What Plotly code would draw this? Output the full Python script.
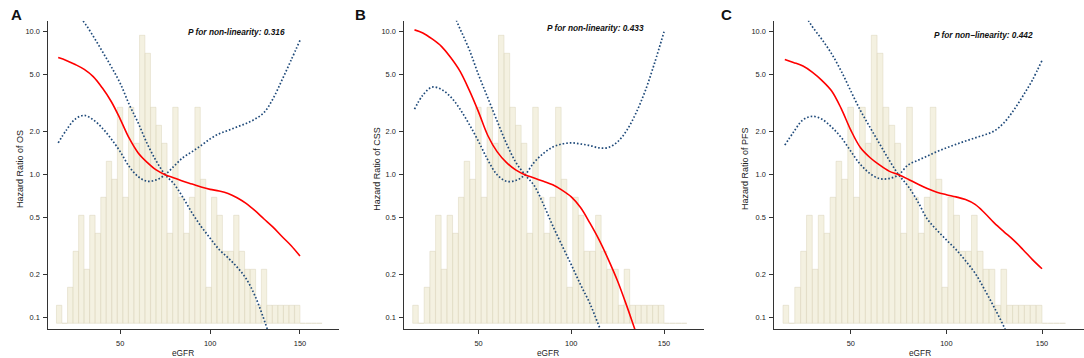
import numpy as np
import plotly.graph_objects as go

# ---------------- data ----------------
egfr_grid = [15.5, 20, 25, 30, 35, 40, 45, 50, 55, 60, 65, 70, 75, 80, 85, 90,
             95, 100, 105, 110, 115, 120, 125, 130, 135, 140, 145, 150]
egfr_ref = 75

hr_os = [6.6, 6.3, 5.9, 5.45, 4.85, 4.05, 3.25, 2.45, 1.8, 1.42, 1.22, 1.08, 1.0, 0.95,
         0.9, 0.86, 0.82, 0.79, 0.77, 0.74, 0.69, 0.63, 0.56, 0.49, 0.43, 0.37, 0.32, 0.27]
upper_os = [18, 16, 13.6, 11.6, 9.3, 7.3, 5.7, 4.36, 3.1, 2.3, 1.65, 1.25, 1.0, 1.15,
            1.32, 1.45, 1.6, 1.78, 1.93, 2.04, 2.16, 2.28, 2.45, 2.72, 3.4, 4.6, 6.3, 8.7]
lower_os = [1.67, 2.05, 2.45, 2.6, 2.42, 2.12, 1.78, 1.45, 1.14, 0.97, 0.9, 0.92, 1.0, 0.86,
            0.69, 0.54, 0.435, 0.36, 0.30, 0.262, 0.226, 0.188, 0.142, 0.097, 0.063, 0.04, 0.025, 0.016]

hr_css = [10.3, 9.8, 8.9, 7.9, 6.6, 5.3, 3.9, 2.75, 1.88, 1.45, 1.22, 1.08, 1.0, 0.95,
          0.9, 0.85, 0.78, 0.7, 0.59, 0.46, 0.35, 0.255, 0.18, 0.12, 0.078, 0.052, 0.035, 0.024]
upper_css = [24, 22, 20, 17.5, 14.5, 10.5, 7.5, 5.0, 3.45, 2.38, 1.66, 1.23, 1.0, 1.22,
             1.41, 1.56, 1.64, 1.67, 1.64, 1.6, 1.54, 1.55, 1.7, 2.05, 2.72, 3.9, 6.1, 10.0]
lower_css = [2.87, 3.6, 4.1, 3.95, 3.5, 2.88, 2.25, 1.71, 1.27, 1.0, 0.9, 0.91, 1.0, 0.84,
             0.62, 0.44, 0.32, 0.235, 0.17, 0.126, 0.087, 0.06, 0.04, 0.027, 0.018, 0.012, 0.008, 0.005]

hr_pfs = [6.4, 6.1, 5.75, 5.2, 4.55, 3.85, 2.9, 2.05, 1.55, 1.32, 1.17, 1.06, 1.0, 0.93,
          0.86, 0.8, 0.755, 0.725, 0.7, 0.67, 0.62, 0.54, 0.46, 0.4, 0.35, 0.3, 0.255, 0.22]
upper_pfs = [20, 17.5, 13.8, 10.8, 8.8, 7.0, 5.3, 3.85, 2.82, 2.15, 1.65, 1.27, 1.0, 1.17,
             1.26, 1.35, 1.45, 1.54, 1.63, 1.72, 1.81, 1.9, 2.02, 2.3, 2.8, 3.55, 4.6, 6.3]
lower_pfs = [1.61, 1.98, 2.42, 2.56, 2.44, 2.15, 1.82, 1.46, 1.18, 1.02, 0.94, 0.94, 1.0, 0.83,
             0.65, 0.49, 0.41, 0.35, 0.3, 0.25, 0.205, 0.157, 0.118, 0.087, 0.06, 0.04, 0.027, 0.018]

# eGFR distribution (histogram counts, same cohort in every panel)
hist_start = 14.5
hist_binwidth = 3.08
hist_counts = [1, 0, 2, 4, 6, 3, 6, 5, 7, 9, 8, 12, 7, 12, 10, 16, 15, 12, 11, 10, 5, 12,
               7, 5, 7, 12, 8, 2, 7, 6, 4, 4, 6, 4, 3, 3, 1, 3, 1, 1, 1, 1, 1, 1, 0, 0, 0, 0]

panel_letters = ["A", "B", "C"]
y_titles = ["Hazard Ratio of OS", "Hazard Ratio of CSS", "Hazard Ratio of PFS"]
p_texts = ["P for non-linearity: 0.316", "P for non-linearity: 0.433",
           "P for non\u2212linearity: 0.442"]
x_title = "eGFR"
y_tickvals = [0.1, 0.2, 0.5, 1, 2, 5, 10]
y_ticktext = ["0.1", "0.2", "0.5", "1.0", "2.0", "5.0", "10.0"]
x_tickvals = [50, 100, 150]

panels = [(hr_os, upper_os, lower_os), (hr_css, upper_css, lower_css),
          (hr_pfs, upper_pfs, lower_pfs)]

# ---------------- layout geometry ----------------
W, H = 1084, 358
x_dom_px = [(48.3, 339.0), (404.3, 704.3), (774.3, 1083.5)]
y_top_px, y_bot_px = 20.7, 329.0
y_dom = [1 - y_bot_px / H, 1 - y_top_px / H]
x_range = [10.0, 171.7]
log_range = [-1.079, 1.077]
count_range = [-0.317, 16.81]
letter_px = [(16.3, 14.7), (360.0, 14.7), (726.0, 14.7)]
ptext_px = [(236.8, 32.3), (595.0, 28.0), (983.0, 34.7)]
ytitle_px = [20.0, 376.7, 745.0]
ytitle_cy = 169.0
xtitle_px = [183.3, 548.3, 920.0]

FONT = "Liberation Sans, Arial, Helvetica, sans-serif"
TXT = "#222222"
AX = "#333333"
RED = "#FF0000"
BLUE = "#1F4A7A"

edges = hist_start + hist_binwidth * np.arange(len(hist_counts))
centers = edges + hist_binwidth / 2
k_ref = egfr_grid.index(egfr_ref)

fig = go.Figure()
layout = dict(width=W, height=H, margin=dict(l=0, r=0, t=0, b=0),
              paper_bgcolor="white", plot_bgcolor="rgba(0,0,0,0)",
              showlegend=False, font=dict(family=FONT, color=TXT, size=8))
annotations = []
shapes = []

for i, (hr, up, lo) in enumerate(panels):
    xn = "" if i == 0 else str(i + 1)
    yc = str(2 * i + 1) if i > 0 else ""
    yl = str(2 * i + 2)
    xa = "x" + xn
    yca = "y" + yc
    yla = "y" + yl

    fig.add_trace(go.Bar(x=centers, y=hist_counts, width=hist_binwidth * 0.97,
                         marker=dict(color="rgba(240,235,214,0.72)",
                                     line=dict(color="rgba(214,207,178,0.7)", width=0.6)),
                         xaxis=xa, yaxis=yca, hoverinfo="skip"))

    line1 = up[:k_ref + 1] + lo[k_ref + 1:]
    line2 = lo[:k_ref + 1] + up[k_ref + 1:]
    for ln in (line1, line2):
        fig.add_trace(go.Scatter(x=egfr_grid, y=ln, mode="lines",
                                 line=dict(color=BLUE, width=1.7, dash="1.6px,2.0px",
                                           shape="spline", smoothing=1.0),
                                 xaxis=xa, yaxis=yla, hoverinfo="skip"))
    fig.add_trace(go.Scatter(x=egfr_grid, y=hr, mode="lines",
                             line=dict(color=RED, width=1.6, shape="spline", smoothing=1.0),
                             xaxis=xa, yaxis=yla, hoverinfo="skip"))

    d0, d1 = x_dom_px[i]
    layout["xaxis" + xn] = dict(domain=[d0 / W, d1 / W], range=x_range, anchor=yca,
                                showline=True, linecolor=AX, linewidth=1,
                                ticks="outside", ticklen=4, tickcolor=AX, tickwidth=1,
                                tickvals=x_tickvals, showgrid=False, zeroline=False,
                                tickfont=dict(size=7.4, color=TXT, family=FONT),
                                ticklabelstandoff=3)
    layout["yaxis" + yc] = dict(domain=y_dom, range=count_range, anchor=xa,
                                visible=False, showgrid=False, zeroline=False)
    layout["yaxis" + yl] = dict(domain=y_dom, type="log", range=log_range,
                                overlaying=yca, anchor=xa, side="left",
                                showline=True, linecolor=AX, linewidth=1,
                                ticks="outside", ticklen=4, tickcolor=AX, tickwidth=1,
                                tickvals=y_tickvals, ticktext=y_ticktext,
                                showgrid=False, zeroline=False,
                                tickfont=dict(size=7.4, color=TXT, family=FONT),
                                ticklabelstandoff=2)

    shapes.append(dict(type="line", xref=xa + " domain", x0=0, x1=1,
                       yref=yla, y0=0, y1=0, layer="above",
                       line=dict(color="#9A9A9A", width=1, dash="4px,3px")))

    lx, ly = letter_px[i]
    annotations.append(dict(text="<b>%s</b>" % panel_letters[i], x=lx / W, y=1 - ly / H,
                            xref="paper", yref="paper", showarrow=False,
                            xanchor="center", yanchor="middle",
                            font=dict(size=15, color="#111111", family=FONT)))
    px_, py_ = ptext_px[i]
    annotations.append(dict(text="<b><i>%s</i></b>" % p_texts[i], x=px_ / W, y=1 - py_ / H,
                            xref="paper", yref="paper", showarrow=False,
                            xanchor="center", yanchor="middle",
                            font=dict(size=8.3, color="#111111", family=FONT)))
    annotations.append(dict(text=y_titles[i], x=ytitle_px[i] / W,
                            y=1 - ytitle_cy / H,
                            xref="paper", yref="paper", showarrow=False, textangle=-90,
                            xanchor="center", yanchor="middle",
                            font=dict(size=9, color=TXT, family=FONT)))
    annotations.append(dict(text=x_title, x=xtitle_px[i] / W, y=1 - 353.3 / H,
                            xref="paper", yref="paper", showarrow=False,
                            xanchor="center", yanchor="middle",
                            font=dict(size=8.3, color=TXT, family=FONT)))

layout["annotations"] = annotations
layout["shapes"] = shapes
layout["bargap"] = 0
fig.update_layout(**layout)
fig.write_html("out.html", config={"displayModeBar": False, "staticPlot": True},
               post_script="document.body.style.margin='0';document.body.style.overflow='hidden';")
